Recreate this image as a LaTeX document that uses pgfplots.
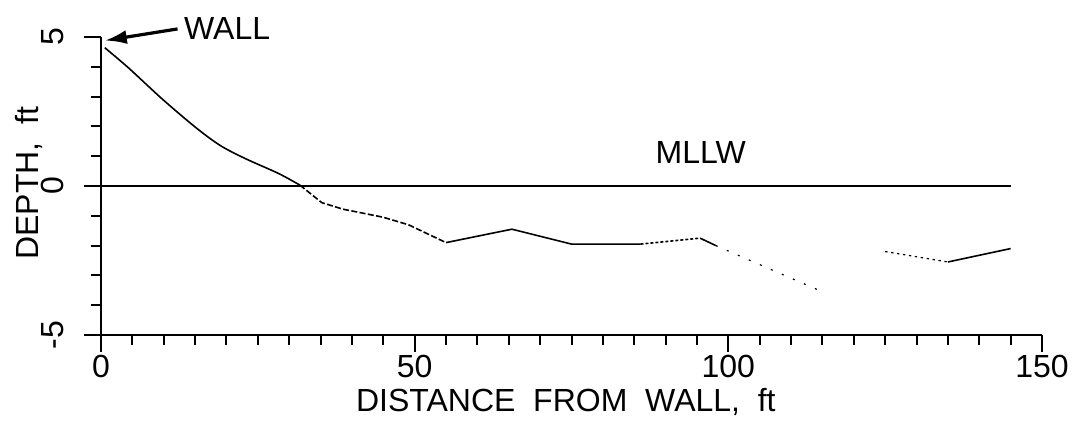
\documentclass[border=0pt]{standalone}
\usepackage{pgfplots}
\pgfplotsset{compat=1.18}
\usepackage{fontspec}
\setmainfont{Liberation Sans}
\usetikzlibrary{arrows.meta}
\begin{document}
\fontsize{16}{19}\selectfont
\begin{tikzpicture}
\useasboundingbox (-50.5pt,-48pt) rectangle (490pt,167.5pt);
\begin{axis}[
  scale only axis, width=470.5pt, height=149pt,
  xmin=0, xmax=150, ymin=-5, ymax=5,
  axis lines=left, axis line style={-, line width=1.2pt},
  clip=false,
  xtick={0,50,100,150}, minor xtick={5,10,...,145},
  ytick={-5,0,5}, minor ytick={-4,-3,-2,-1,1,2,3,4},
  tick align=outside,
  major tick length=8.5pt, minor tick length=5pt,
  every tick/.style={black, line width=1pt},
  /pgf/number format/assume math mode=true,
  xticklabel style={anchor=north, inner sep=0pt},
  yticklabel style={rotate=90, anchor=south, inner sep=0pt},
  xticklabel shift=1.5pt,
  yticklabel shift=10pt,
  xlabel={DISTANCE\ \ FROM\ \ WALL,\ \ ft},
  ylabel={DEPTH,\ \ ft},
  xlabel style={at={(axis description cs:0.494,-0.178)}, anchor=north, inner sep=0pt},
  ylabel style={at={(axis description cs:-0.0669,0.51)}, anchor=base, inner sep=0pt},
]
% MLLW line
\addplot[black, line width=1.2pt] coordinates {(0,0) (145,0)};
% profile segments
\addplot[black, line width=0.8pt, smooth] coordinates {(0.6,4.64) (4.35,3.97) (9.7,2.93) (15.0,1.98) (19,1.36) (23,0.92) (28.3,0.42) (31.7,0.03)};
\addplot[black, line width=0.8pt, dash pattern=on 3pt off 1.2pt] coordinates {(31.7,0.03) (35.2,-0.56) (38.6,-0.78) (41,-0.88) (45,-1.05) (49,-1.3) (55,-1.9)};
\addplot[black, line width=0.8pt] coordinates {(55,-1.9) (65.5,-1.45) (75,-1.95) (86,-1.95)};
\addplot[black, line width=0.8pt, dash pattern=on 1.5pt off 1pt] coordinates {(86,-1.95) (95.5,-1.75)};
\addplot[black, line width=0.8pt] coordinates {(95.5,-1.75) (98,-2.0)};
\addplot[black, line width=0.6pt, dash pattern=on 1pt off 5pt] coordinates {(98,-2.0) (115,-3.55)};
\addplot[black, line width=0.6pt, dash pattern=on 1.2pt off 1.8pt] coordinates {(125,-2.2) (135,-2.55)};
\addplot[black, line width=0.8pt] coordinates {(135,-2.55) (145,-2.1)};
\node at (axis cs:95.6,1.14) {MLLW};
\node[anchor=west, inner sep=0pt] at (axis cs:13.2,5.27) {WALL};
\draw[line width=1.6pt, -{Latex[length=11pt,width=7pt]}] (axis cs:12.2,5.27) -- (axis cs:0.6,4.88);
\end{axis}
\end{tikzpicture}
\end{document}
